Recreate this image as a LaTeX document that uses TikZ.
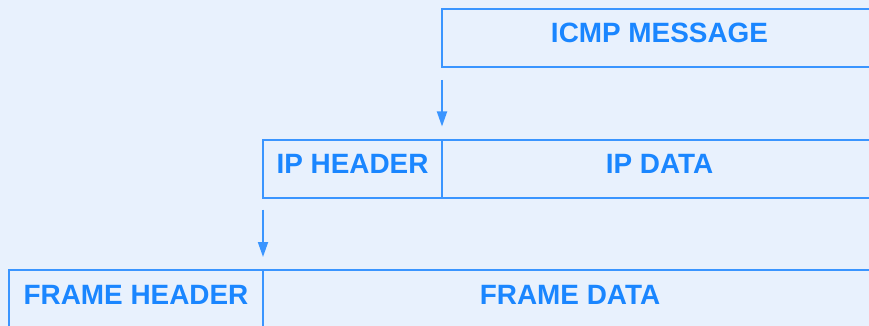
\documentclass[tikz,border=0pt]{standalone}
\usepackage{fontspec}
\setmainfont{Liberation Sans}
\usetikzlibrary{arrows.meta}
\definecolor{bg}{HTML}{E8F1FD}
\definecolor{edge}{HTML}{3A95FF}
\definecolor{ink}{HTML}{1A86FF}
\begin{document}
\begin{tikzpicture}[x=1pt,y=-1pt,
  box/.style={draw=edge,line width=2pt,rectangle,inner sep=0pt,outer sep=0pt,anchor=north west,minimum height=58pt},
  lbl/.style={text=ink,font=\bfseries\fontsize{27.9}{30}\selectfont,anchor=base,inner sep=0pt},
  arr/.style={draw=edge,line width=1.8pt,-{Triangle[length=15pt,width=10pt]}}]
\useasboundingbox (0,0) rectangle (869,326);
\fill[bg] (0,0) rectangle (869,326);
\clip (0,0) rectangle (869,326);
% ICMP row
\node[box,minimum width=435pt] (icmp) at (442,9) {};
% IP row
\node[box,minimum width=179pt] (iphdr) at (263,139.5) {};
\node[box,minimum width=435pt] (ipdata) at (442,139.5) {};
% Frame row
\node[box,minimum width=254pt] (frhdr) at (9,270) {};
\node[box,minimum width=614pt] (frdata) at (263,270) {};
% labels
\node[lbl] (ticmp) at (icmp.center) [yshift=-5pt] {ICMP MESSAGE};
\node[lbl] (tiphdr) at (iphdr.center) [yshift=-5pt] {IP HEADER};
\node[lbl] (tipdata) at (ipdata.center) [yshift=-5pt] {IP DATA};
\node[lbl] (tfrhdr) at (frhdr.center) [yshift=-5pt] {FRAME HEADER};
\node[lbl] (tfrdata) at (frdata.center) [yshift=-5pt] {FRAME DATA};
% arrows
\draw[arr,shorten <=13pt,shorten >=13pt] (icmp.south west) -- (iphdr.north east);
\draw[arr,shorten <=12pt,shorten >=13pt] (iphdr.south west) -- (frhdr.north east);
\end{tikzpicture}
\end{document}
